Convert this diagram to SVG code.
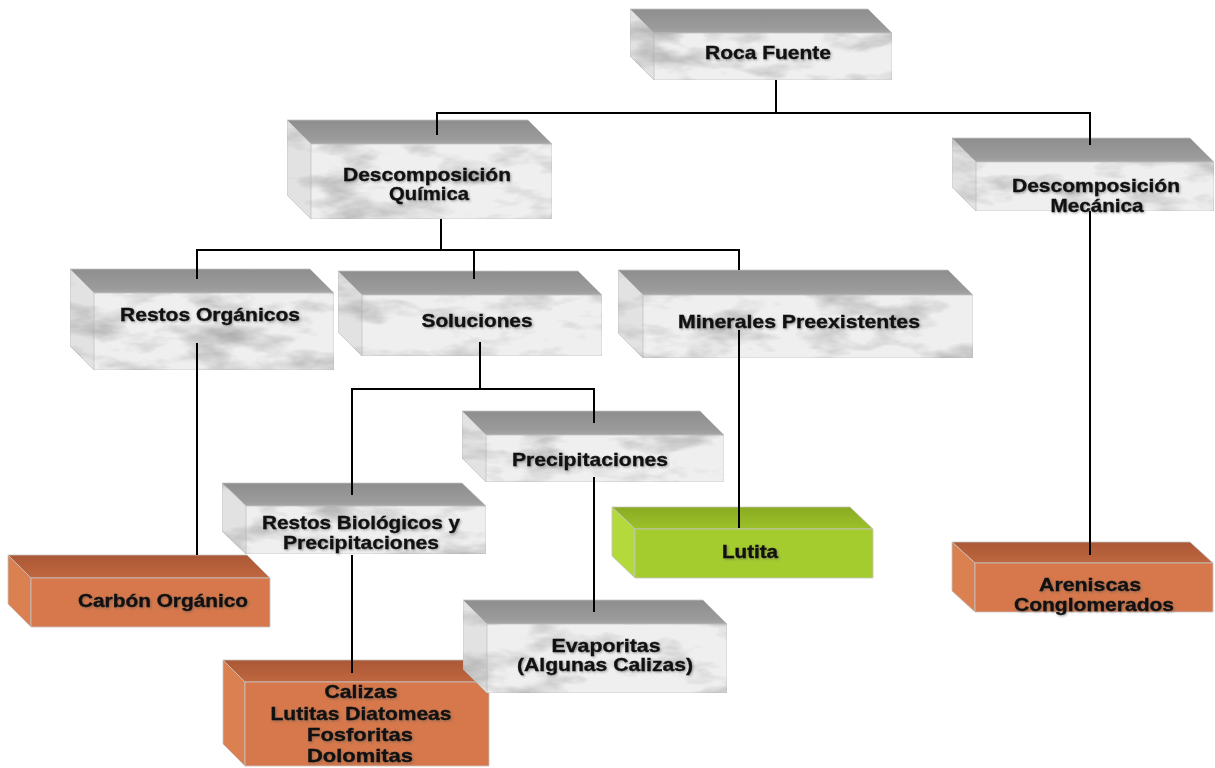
<svg xmlns="http://www.w3.org/2000/svg" width="1215" height="768" viewBox="0 0 1215 768">
  <defs>
    <!-- soft grey marble clouds laid over the light faces -->
    <filter id="marble" x="0" y="0" width="1" height="1" color-interpolation-filters="sRGB">
      <feTurbulence type="fractalNoise" baseFrequency="0.016 0.04" numOctaves="4" seed="7" result="noise"/>
      <feColorMatrix in="noise" type="matrix" values="0 0 0 0 0.62  0 0 0 0 0.62  0 0 0 0 0.62  1.8 0 0 0 -0.86" result="cloud"/>
      <feComposite in="cloud" in2="SourceGraphic" operator="in" result="clip"/>
      <feMerge><feMergeNode in="SourceGraphic"/><feMergeNode in="clip"/></feMerge>
    </filter>
    <filter id="shade" x="-5%" y="-20%" width="110%" height="140%" color-interpolation-filters="sRGB">
      <feDropShadow dx="1.2" dy="1.2" stdDeviation="0.8" flood-color="#555" flood-opacity="0.5"/>
    </filter>
    <linearGradient id="topGrey" x1="0" y1="0" x2="0" y2="1">
      <stop offset="0" stop-color="#8e8e8e"/>
      <stop offset="0.8" stop-color="#9b9b9b"/>
      <stop offset="1" stop-color="#a6a6a6"/>
    </linearGradient>
    <linearGradient id="topOrange" x1="0" y1="0" x2="0" y2="1">
      <stop offset="0" stop-color="#ab5835"/>
      <stop offset="1" stop-color="#bf6740"/>
    </linearGradient>
    <linearGradient id="topGreen" x1="0" y1="0" x2="0" y2="1">
      <stop offset="0" stop-color="#8aab22"/>
      <stop offset="1" stop-color="#9cc12a"/>
    </linearGradient>
    <style>
      .edge { stroke: #c4c4c4; stroke-width: 0.8; stroke-linejoin: round; }
      .g-top { fill: url(#topGrey); }
      .g-side { fill: #e2e2e2; filter: url(#marble); }
      .g-front { fill: #efefef; filter: url(#marble); }
      .o-top { fill: url(#topOrange); }
      .o-side { fill: #db8051; }
      .o-front { fill: #d6784b; }
      .v-top { fill: url(#topGreen); }
      .v-side { fill: #b3d93a; }
      .v-front { fill: #a5cc2f; }
      .label { font-family: "Liberation Sans", Arial, sans-serif; font-weight: bold; font-size: 19px; fill: #111; stroke: #111; stroke-width: 0.35; text-anchor: middle; filter: url(#shade); }
      .wire { fill: none; stroke: #000; stroke-width: 2; }
    </style>
  </defs>

  <rect width="1215" height="768" fill="#fff"/>

  <g id="roca-fuente">
    <polygon class="g-top edge" points="630,9 868,9 892,33 654,33"/>
    <polygon class="g-side edge" points="630,9 654,33 654,80 630,56"/>
    <rect class="g-front edge" x="654" y="33" width="238" height="47"/>
    <text class="label" x="768" y="59" textLength="126" lengthAdjust="spacingAndGlyphs">Roca Fuente</text>
  </g>

  <g id="descomposicion-quimica">
    <polygon class="g-top edge" points="287,120 528,120 552,144 311,144"/>
    <polygon class="g-side edge" points="287,120 311,144 311,219 287,195"/>
    <rect class="g-front edge" x="311" y="144" width="241" height="75"/>
    <text class="label" x="427" y="181" textLength="168" lengthAdjust="spacingAndGlyphs">Descomposición</text>
    <text class="label" x="429" y="200" textLength="80" lengthAdjust="spacingAndGlyphs">Química</text>
  </g>

  <g id="descomposicion-mecanica">
    <polygon class="g-top edge" points="952,138 1190,138 1214,162 976,162"/>
    <polygon class="g-side edge" points="952,138 976,162 976,211 952,187"/>
    <rect class="g-front edge" x="976" y="162" width="238" height="49"/>
    <text class="label" x="1096" y="192" textLength="168" lengthAdjust="spacingAndGlyphs">Descomposición</text>
    <text class="label" x="1097" y="212" textLength="93" lengthAdjust="spacingAndGlyphs">Mecánica</text>
  </g>

  <g id="restos-organicos">
    <polygon class="g-top edge" points="70,269 310,269 334,293 94,293"/>
    <polygon class="g-side edge" points="70,269 94,293 94,370 70,346"/>
    <rect class="g-front edge" x="94" y="293" width="240" height="77"/>
    <text class="label" x="210" y="321" textLength="180" lengthAdjust="spacingAndGlyphs">Restos Orgánicos</text>
  </g>

  <g id="soluciones">
    <polygon class="g-top edge" points="338,271 578,271 602,295 362,295"/>
    <polygon class="g-side edge" points="338,271 362,295 362,356 338,332"/>
    <rect class="g-front edge" x="362" y="295" width="240" height="61"/>
    <text class="label" x="477" y="327" textLength="111" lengthAdjust="spacingAndGlyphs">Soluciones</text>
  </g>

  <g id="minerales-preexistentes">
    <polygon class="g-top edge" points="618,270 948,270 973,295 643,295"/>
    <polygon class="g-side edge" points="618,270 643,295 643,358 618,333"/>
    <rect class="g-front edge" x="643" y="295" width="330" height="63"/>
    <text class="label" x="799" y="328" textLength="242" lengthAdjust="spacingAndGlyphs">Minerales Preexistentes</text>
  </g>

  <g id="precipitaciones">
    <polygon class="g-top edge" points="462,411 700,411 724,435 486,435"/>
    <polygon class="g-side edge" points="462,411 486,435 486,482 462,458"/>
    <rect class="g-front edge" x="486" y="435" width="238" height="47"/>
    <text class="label" x="590" y="466" textLength="156" lengthAdjust="spacingAndGlyphs">Precipitaciones</text>
  </g>

  <g id="restos-biologicos">
    <polygon class="g-top edge" points="222,483 462,483 486,506 246,506"/>
    <polygon class="g-side edge" points="222,483 246,506 246,554 222,531"/>
    <rect class="g-front edge" x="246" y="506" width="240" height="48"/>
    <text class="label" x="361" y="529" textLength="198" lengthAdjust="spacingAndGlyphs">Restos Biológicos y</text>
    <text class="label" x="361" y="549" textLength="156" lengthAdjust="spacingAndGlyphs">Precipitaciones</text>
  </g>

  <g id="lutita">
    <polygon class="v-top edge" points="612,507 850,507 873,529 635,529"/>
    <polygon class="v-side edge" points="612,507 635,529 635,578 612,556"/>
    <rect class="v-front edge" x="635" y="529" width="238" height="49"/>
    <text class="label" x="750" y="558" textLength="56" lengthAdjust="spacingAndGlyphs">Lutita</text>
  </g>

  <g id="carbon-organico">
    <polygon class="o-top edge" points="8,555 247,555 270,578 31,578"/>
    <polygon class="o-side edge" points="8,555 31,578 31,627 8,604"/>
    <rect class="o-front edge" x="31" y="578" width="239" height="49"/>
    <text class="label" x="163" y="607" textLength="170" lengthAdjust="spacingAndGlyphs">Carbón Orgánico</text>
  </g>

  <g id="areniscas-conglomerados">
    <polygon class="o-top edge" points="952,542 1190,542 1213,563 975,563"/>
    <polygon class="o-side edge" points="952,542 975,563 975,612 952,591"/>
    <rect class="o-front edge" x="975" y="563" width="238" height="49"/>
    <text class="label" x="1090" y="591" textLength="102" lengthAdjust="spacingAndGlyphs">Areniscas</text>
    <text class="label" x="1094" y="611" textLength="160" lengthAdjust="spacingAndGlyphs">Conglomerados</text>
  </g>

  <g id="calizas">
    <polygon class="o-top edge" points="223,660 467,660 489,682 245,682"/>
    <polygon class="o-side edge" points="223,660 245,682 245,766 223,744"/>
    <rect class="o-front edge" x="245" y="682" width="244" height="84"/>
    <text class="label" x="361" y="698" textLength="73" lengthAdjust="spacingAndGlyphs">Calizas</text>
    <text class="label" x="361" y="720" textLength="181" lengthAdjust="spacingAndGlyphs">Lutitas Diatomeas</text>
    <text class="label" x="360" y="741" textLength="106" lengthAdjust="spacingAndGlyphs">Fosforitas</text>
    <text class="label" x="360" y="762" textLength="106" lengthAdjust="spacingAndGlyphs">Dolomitas</text>
  </g>

  <g id="evaporitas">
    <polygon class="g-top edge" points="463,600 703,600 727,624 487,624"/>
    <polygon class="g-side edge" points="463,600 487,624 487,693 463,669"/>
    <rect class="g-front edge" x="487" y="624" width="240" height="69"/>
    <text class="label" x="606" y="652" textLength="109" lengthAdjust="spacingAndGlyphs">Evaporitas</text>
    <text class="label" x="605" y="671" textLength="176" lengthAdjust="spacingAndGlyphs">(Algunas Calizas)</text>
  </g>

  <g id="connectors">
    <path class="wire" d="M776,80 V113"/>
    <path class="wire" d="M437,135 V113 H1090 V145"/>
    <path class="wire" d="M441,219 V250"/>
    <path class="wire" d="M197,279 V250 H739 V270"/>
    <path class="wire" d="M474,250 V279"/>
    <path class="wire" d="M197,343 V555"/>
    <path class="wire" d="M480,342 V389"/>
    <path class="wire" d="M352,495 V389 H594 V423"/>
    <path class="wire" d="M352,555 V673"/>
    <path class="wire" d="M594,477 V612"/>
    <path class="wire" d="M739,330 V528"/>
    <path class="wire" d="M1090,211 V555"/>
  </g>
</svg>
